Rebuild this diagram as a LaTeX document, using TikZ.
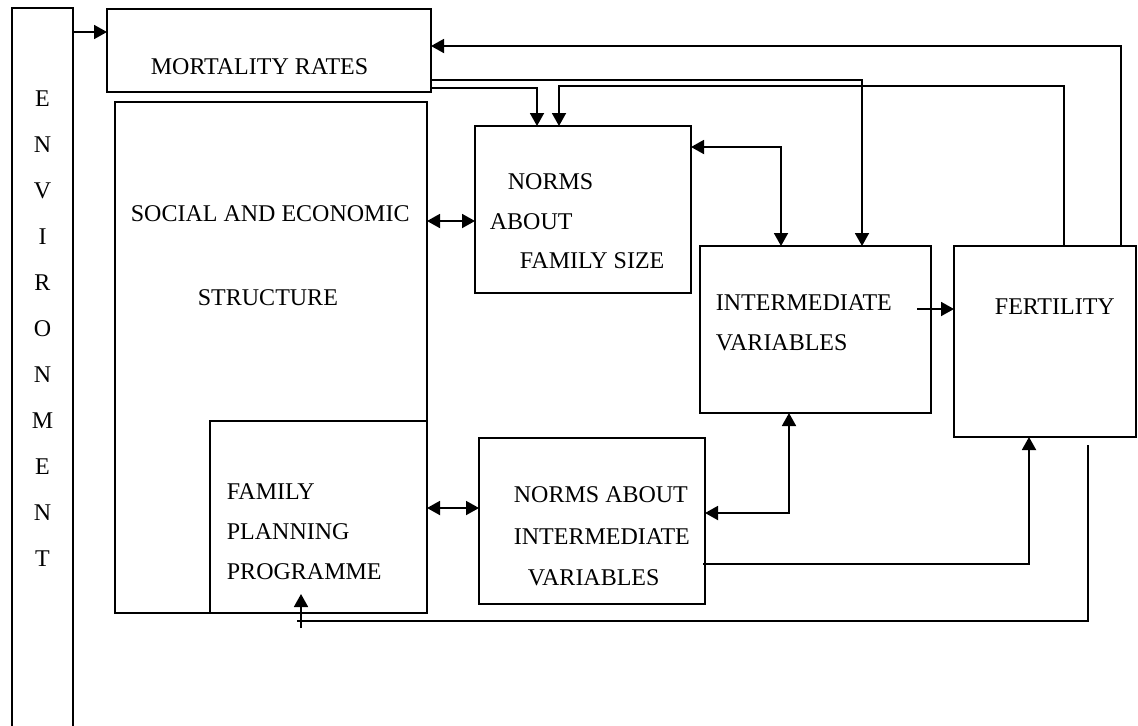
\documentclass[tikz,border=0pt]{standalone}
\usepackage{fontspec}
\setmainfont{Liberation Serif}
\usetikzlibrary{arrows.meta, calc}

\begin{document}
\begin{tikzpicture}[x=0.5pt, y=-0.5pt, line width=0.9pt,
        box/.style={draw, inner sep=0pt, outer sep=0pt},
        lbl/.style={anchor=base west, inner sep=0pt, font=\fontsize{12}{14}\selectfont},
        >={Triangle[length=6.5pt, width=7pt]}]
            \useasboundingbox (0,0) rectangle (1138,725);
            \node[box, minimum width=30.5pt, minimum height=359.5pt] (env) at (42.5,367.5) {};
            \node[box, minimum width=162pt, minimum height=41.5pt] (mort) at (269,50.5) {};
            \node[box, minimum width=156pt, minimum height=255.5pt] (soc) at (271,357.5) {};
            \node[box, minimum width=108.5pt, minimum height=96pt] (fpp) at (318.5,517) {};
            \node[box, minimum width=108pt, minimum height=83.5pt] (nfs) at (583,209.5) {};
            \node[box, minimum width=115.5pt, minimum height=83.5pt] (inter) at (815.5,329.5) {};
            \node[box, minimum width=91pt, minimum height=95.5pt] (fert) at (1045,341.5) {};
            \node[box, minimum width=113pt, minimum height=83pt] (naiv) at (592,521) {};

            \foreach \ch [count=\i] in {E,N,V,I,R,O,N,M,E,N,T}
                \node[lbl, anchor=base] (env\i) at (42.5,{106+46*(\i-1)}) {\ch};
            \node[lbl] (mortlbl) at (150,74) {MORTALITY RATES};
            \node[lbl] (soclbl) at (130,221) {SOCIAL AND ECONOMIC};
            \node[lbl] (soclblb) at (197,305) {STRUCTURE};
            \node[lbl] (nfslbl) at (507,189) {NORMS};
            \node[lbl] (nfslblb) at (489,229) {ABOUT};
            \node[lbl] (nfslblc) at (519,268) {FAMILY SIZE};
            \node[lbl] (interlbl) at (715,310) {INTERMEDIATE};
            \node[lbl] (interlblb) at (715,350) {VARIABLES};
            \node[lbl] (fertlbl) at (994,314) {FERTILITY};
            \node[lbl] (fpplbl) at (226,499) {FAMILY};
            \node[lbl] (fpplblb) at (226,539) {PLANNING};
            \node[lbl] (fpplblc) at (226,579) {PROGRAMME};
            \node[lbl] (naivlbl) at (513,502) {NORMS ABOUT};
            \node[lbl] (naivlblb) at (513,544) {INTERMEDIATE};
            \node[lbl] (naivlblc) at (527,585) {VARIABLES};

            \coordinate (back) at (297,621);

            \draw[->] (env.east |- 0,32) -- (mort.west |- 0,32);
            \draw[->] (fert.north -| 1121,0) |- (mort.east |- 0,46);
            \draw[->] (mort.east |- 0,80) -| (inter.north -| 862,0);
            \draw[->] (mort.east |- 0,88) -| (nfs.north -| 537,0);
            \draw[->] (fert.north -| 1064,0) |- (559,86) -- (nfs.north -| 559,0);
            \draw[<->] (soc.east |- 0,221) -- (nfs.west |- 0,221);
            \draw[<->] (nfs.east |- 0,147) -| (inter.north -| 781,0);
            \draw[->] ($(inter.east |- 0,309)+(-14,0)$) -- (fert.west |- 0,309);
            \draw[<->] (fpp.east |- 0,508) -- (naiv.west |- 0,508);
            \draw[<->] (naiv.east |- 0,513) -| (inter.south -| 789,0);
            \draw[->] ($(naiv.east |- 0,564)+(-2,0)$) -| (fert.south -| 1029,0);
            \draw ($(fert.south -| 1088,0)+(0,8)$) |- (back);
            \draw[->] ($(fpp.south -| 301,0)+(0,15)$) -- ($(fpp.south -| 301,0)+(0,-19)$);
        \end{tikzpicture}
\end{document}
